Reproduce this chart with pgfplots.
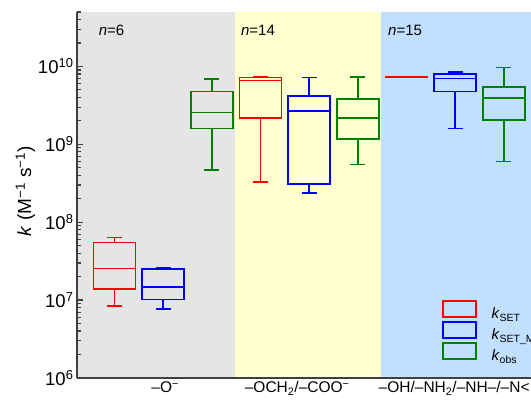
\documentclass[border=0pt]{standalone}
\usepackage{pgfplots}
\pgfplotsset{compat=1.18}
\usepgfplotslibrary{statistics}
\usepackage{fontspec}
\setmainfont{Liberation Sans}
\definecolor{bggray}{RGB}{229,229,229}
\definecolor{bgyellow}{RGB}{255,255,208}
\definecolor{bgblue}{RGB}{193,223,255}
\definecolor{cred}{RGB}{255,0,0}
\definecolor{cblue}{RGB}{0,0,255}
\definecolor{cgreen}{RGB}{0,128,0}
\definecolor{axisgray}{RGB}{64,64,64}
\begin{document}
\begin{tikzpicture}
\path[use as bounding box, clip] (-77pt,-25pt) rectangle (454pt,378pt);
\begin{axis}[
  at={(0,0)}, anchor=south west,
  scale only axis, width=461.4pt, height=366pt,
  axis on top,
  xmin=-0.58, xmax=2.58,
  ymode=log, ymin=1e6, ymax=5e10,
  axis x line*=bottom, axis y line*=left,
  axis line style={axisgray, line width=1.2pt},
  xtick={0.024,0.928,2.003},
  xticklabels={–O\textsuperscript{−}, –OCH\textsubscript{2}/–COO\textsuperscript{−}, –OH/–NH\textsubscript{2}/–NH–/–N<},
  x tick style={draw=none},
  xticklabel style={font=\fontsize{15.5}{18}\selectfont},
  ytick={1e6,1e7,1e8,1e9,1e10},
  yticklabels={10\textsuperscript{6},10\textsuperscript{7},10\textsuperscript{8},10\textsuperscript{9},10\textsuperscript{10}},
  yticklabel style={font=\fontsize{18.5}{21}\selectfont},
  minor ytick={2e6,3e6,4e6,5e6,6e6,7e6,8e6,9e6,2e7,3e7,4e7,5e7,6e7,7e7,8e7,9e7,2e8,3e8,4e8,5e8,6e8,7e8,8e8,9e8,2e9,3e9,4e9,5e9,6e9,7e9,8e9,9e9,2e10,3e10,4e10,5e10},
  y tick style={axisgray, line width=1.2pt},
  major tick length=6pt, minor tick length=4pt,
  tick align=inside,
  ylabel={\textit{k} (M\textsuperscript{−1} s\textsuperscript{−1})},
  ylabel style={font=\fontsize{19}{22}\selectfont, at={(axis description cs:-0.112,0.51)}, anchor=center},
  boxplot/draw direction=y,
  legend style={at={(axis cs:1.918,1e7)}, anchor=north west, draw=none, fill=none, inner sep=0pt, row sep=1pt, font=\fontsize{15}{18}\selectfont, nodes={inner sep=0pt},
    /tikz/every odd column/.append style={column sep=15pt}},
  legend cell align=left,
]
% background regions
\addplot[fill=bggray, draw=none, forget plot] coordinates {(-0.58,1e6) (0.5,1e6) (0.5,5e10) (-0.58,5e10)} -- cycle;
\addplot[fill=bgyellow, draw=none, forget plot] coordinates {(0.5,1e6) (1.5,1e6) (1.5,5e10) (0.5,5e10)} -- cycle;
\addplot[fill=bgblue, draw=none, forget plot] coordinates {(1.5,1e6) (2.58,1e6) (2.58,5e10) (1.5,5e10)} -- cycle;
% group 1: -O-
\addplot[cred, line width=1.6pt, forget plot, boxplot prepared={draw position=-0.323, lower whisker=8.45e6, lower quartile=1.38e7, median=2.55e7, upper quartile=5.5e7, upper whisker=6.4e7, box extend=0.288, whisker extend=0.103}] coordinates {};
\addplot[cblue, line width=1.6pt, forget plot, boxplot prepared={draw position=0.01, lower whisker=7.7e6, lower quartile=1.02e7, median=1.48e7, upper quartile=2.5e7, upper whisker=2.6e7, box extend=0.288, whisker extend=0.103}] coordinates {};
\addplot[cgreen, line width=1.6pt, forget plot, boxplot prepared={draw position=0.343, lower whisker=4.65e8, lower quartile=1.6e9, median=2.55e9, upper quartile=4.77e9, upper whisker=6.9e9, box extend=0.288, whisker extend=0.103}] coordinates {};
% group 2: -OCH2/-COO-
\addplot[cred, line width=1.6pt, forget plot, boxplot prepared={draw position=0.677, lower whisker=3.3e8, lower quartile=2.17e9, median=6.6e9, upper quartile=7.2e9, upper whisker=7.45e9, box extend=0.288, whisker extend=0.103}] coordinates {};
\addplot[cblue, line width=1.6pt, forget plot, boxplot prepared={draw position=1.01, lower whisker=2.38e8, lower quartile=3.1e8, median=2.67e9, upper quartile=4.16e9, upper whisker=7.2e9, box extend=0.288, whisker extend=0.103}] coordinates {};
\addplot[cgreen, line width=1.6pt, forget plot, boxplot prepared={draw position=1.343, lower whisker=5.5e8, lower quartile=1.18e9, median=2.17e9, upper quartile=3.81e9, upper whisker=7.3e9, box extend=0.288, whisker extend=0.103}] coordinates {};
% group 3: -OH/-NH2/-NH-/-N<
\addplot[cred, line width=1.6pt, forget plot, boxplot prepared={draw position=1.677, lower whisker=7.2e9, lower quartile=7.25e9, median=7.3e9, upper quartile=7.35e9, upper whisker=7.45e9, box extend=0.288, whisker extend=0.103}] coordinates {};
\addplot[cblue, line width=1.6pt, forget plot, boxplot prepared={draw position=2.01, lower whisker=1.59e9, lower quartile=4.74e9, median=7.0e9, upper quartile=7.96e9, upper whisker=8.45e9, box extend=0.288, whisker extend=0.103}] coordinates {};
\addplot[cgreen, line width=1.6pt, forget plot, boxplot prepared={draw position=2.343, lower whisker=6.05e8, lower quartile=2.07e9, median=3.93e9, upper quartile=5.43e9, upper whisker=9.7e9, box extend=0.288, whisker extend=0.103}] coordinates {};
% legend
\addlegendimage{cred, line width=1.6pt, legend image code/.code={\draw (0pt,-3pt) rectangle (33pt,13pt);}}
\addlegendentry{\textit{k}\textsubscript{SET}}
\addlegendimage{cblue, line width=1.6pt, legend image code/.code={\draw (0pt,-3pt) rectangle (33pt,13pt);}}
\addlegendentry{\textit{k}\textsubscript{SET\_MEP}}
\addlegendimage{cgreen, line width=1.6pt, legend image code/.code={\draw (0pt,-3pt) rectangle (33pt,13pt);}}
\addlegendentry{\textit{k}\textsubscript{obs}}
% n labels
\node[anchor=base west, font=\fontsize{15}{18}\selectfont, inner sep=0pt] at (axis cs:-0.432,2.52e10) {\textit{n}=6};
\node[anchor=base west, font=\fontsize{15}{18}\selectfont, inner sep=0pt] at (axis cs:0.5425,2.52e10) {\textit{n}=14};
\node[anchor=base west, font=\fontsize{15}{18}\selectfont, inner sep=0pt] at (axis cs:1.55,2.52e10) {\textit{n}=15};
\end{axis}
\end{tikzpicture}
\end{document}
